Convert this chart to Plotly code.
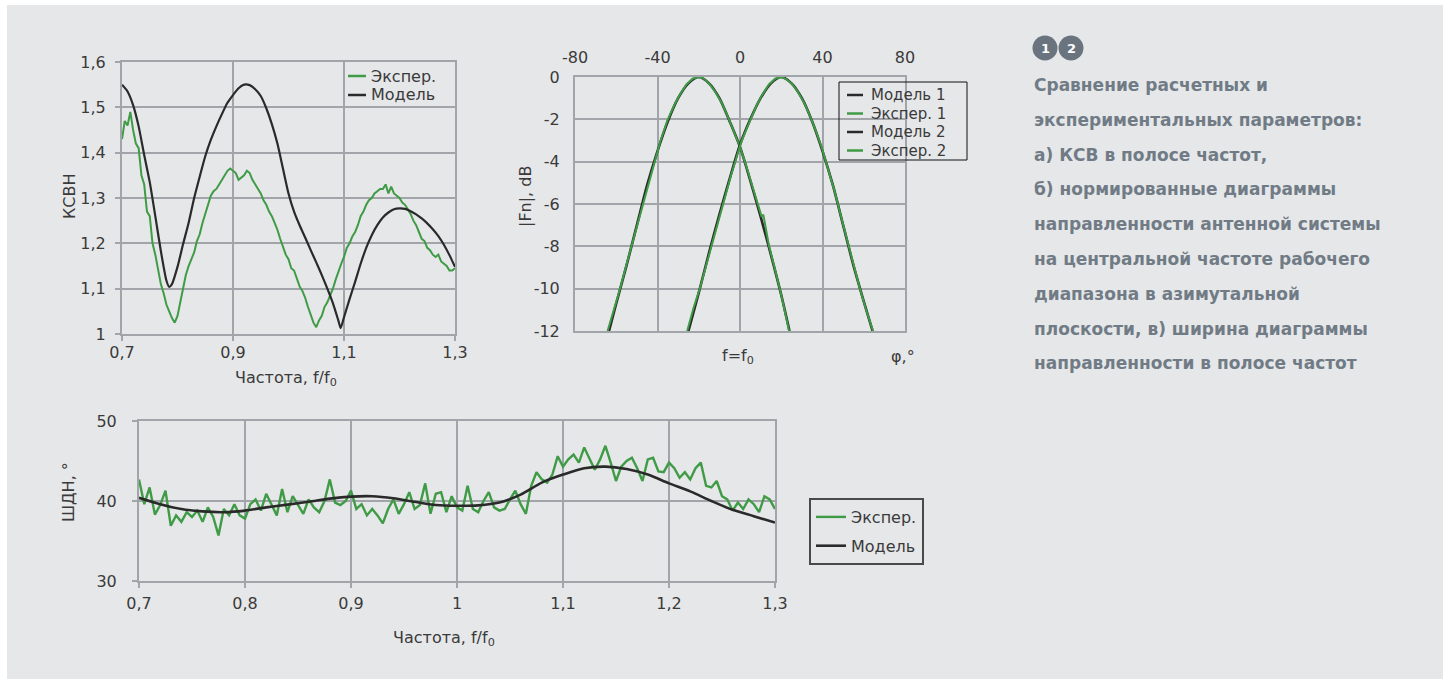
import plotly.graph_objects as go

W, H = 1448, 684

# ---------------- КСВН vs relative frequency ----------------
vswr_f_exp = [round(0.700 + 0.005 * k, 3) for k in range(121)]
vswr_exp = [
    1.43, 1.47, 1.46, 1.49, 1.45, 1.42, 1.41, 1.35, 1.33, 1.27,
    1.26, 1.20, 1.175, 1.145, 1.11, 1.09, 1.065, 1.05, 1.035, 1.025,
    1.04, 1.07, 1.10, 1.13, 1.15, 1.165, 1.18, 1.205, 1.22, 1.245,
    1.265, 1.29, 1.305, 1.315, 1.32, 1.33, 1.34, 1.35, 1.36, 1.365,
    1.36, 1.355, 1.34, 1.345, 1.35, 1.36, 1.355, 1.34, 1.33, 1.32,
    1.31, 1.295, 1.285, 1.27, 1.26, 1.245, 1.23, 1.21, 1.19, 1.175,
    1.165, 1.145, 1.14, 1.12, 1.105, 1.095, 1.08, 1.06, 1.04, 1.025,
    1.015, 1.03, 1.04, 1.06, 1.07, 1.085, 1.10, 1.12, 1.14, 1.155,
    1.17, 1.19, 1.20, 1.215, 1.225, 1.24, 1.26, 1.27, 1.285, 1.295,
    1.30, 1.31, 1.315, 1.32, 1.32, 1.33, 1.31, 1.325, 1.31, 1.305,
    1.30, 1.29, 1.285, 1.275, 1.265, 1.25, 1.24, 1.225, 1.21, 1.205,
    1.19, 1.185, 1.175, 1.17, 1.175, 1.16, 1.155, 1.15, 1.14, 1.14,
    1.145,
]
vswr_f_model = [
    0.70, 0.71, 0.72, 0.73, 0.74, 0.75, 0.76, 0.77, 0.78, 0.785,
    0.79, 0.80, 0.81, 0.82, 0.83, 0.84, 0.85, 0.86, 0.87, 0.88,
    0.89, 0.90, 0.91, 0.92, 0.93, 0.94, 0.95, 0.96, 0.97, 0.98,
    0.99, 1.00, 1.01, 1.02, 1.03, 1.04, 1.05, 1.06, 1.07, 1.08,
    1.09, 1.094, 1.10, 1.11, 1.12, 1.13, 1.14, 1.15, 1.16, 1.17,
    1.18, 1.19, 1.20, 1.21, 1.22, 1.23, 1.24, 1.25, 1.26, 1.27,
    1.28, 1.29, 1.30,
]
vswr_model = [
    1.550, 1.535, 1.505, 1.458, 1.395, 1.335, 1.260, 1.183, 1.118, 1.104,
    1.110, 1.148, 1.198, 1.245, 1.300, 1.347, 1.392, 1.428, 1.458, 1.485,
    1.510, 1.527, 1.542, 1.550, 1.549, 1.540, 1.525, 1.498, 1.463, 1.420,
    1.365, 1.310, 1.270, 1.240, 1.213, 1.185, 1.158, 1.130, 1.100, 1.068,
    1.029, 1.013, 1.037, 1.077, 1.115, 1.155, 1.190, 1.218, 1.240, 1.257,
    1.268, 1.275, 1.277, 1.276, 1.271, 1.264, 1.255, 1.244, 1.231, 1.216,
    1.197, 1.174, 1.148,
]
vswr_xticks = [0.7, 0.9, 1.1, 1.3]
vswr_yticks = [1.0, 1.1, 1.2, 1.3, 1.4, 1.5, 1.6]

# ---------------- normalised patterns |Fn|, dB ----------------
model1_phi = [-63.5, -60, -55, -50, -45, -40, -35, -30, -25, -20,
              -15, -10, -5, 0, 5, 10, 15, 20, 24]
model1_db = [-12.0, -10.7, -8.9, -7.0, -5.1, -3.5, -2.1, -1.0, -0.3, 0.0,
             -0.3, -1.0, -2.1, -3.3, -4.9, -6.6, -8.4, -10.3, -12.0]
exp1_phi = [-64.2, -61, -58, -55.3, -52.5, -49.7, -47, -44.3, -41.5, -38.5,
            -35.2, -32, -29, -26, -23, -20.5, -18, -15, -12, -9,
            -6, -3, 0, 3, 6, 9, 10.5, 11.3, 12, 14, 17, 20, 23.8]
exp1_db = [-12.0, -11.0, -9.95, -8.95, -7.95, -6.95, -6.0, -5.0, -4.0, -3.0,
           -2.05, -1.35, -0.8, -0.35, -0.08, 0.0, -0.05, -0.3, -0.7, -1.2,
           -1.85, -2.55, -3.3, -4.2, -5.15, -6.15, -6.6, -6.5, -6.9, -7.95,
           -9.1, -10.3, -12.0]
model2_phi = [-25, -20, -15, -10, -5, 0, 5, 10, 15, 20,
              25, 30, 35, 40, 45, 50, 55, 60, 64.3]
model2_db = [-12.0, -10.2, -8.3, -6.5, -4.8, -3.2, -2.0, -1.0, -0.3, 0.0,
             -0.3, -1.0, -2.1, -3.5, -5.1, -7.0, -8.9, -10.6, -12.0]
exp2_phi = [-25.6, -22.5, -19.5, -17, -14.5, -12, -9.5, -7, -4.5, -2,
            0.5, 3, 5.5, 8, 11, 14, 17, 19.5, 22, 25,
            28, 31, 34, 37, 40, 43, 46, 49, 52, 55,
            58, 61, 64.5]
exp2_db = [-12.0, -10.9, -10.0, -9.1, -8.2, -7.3, -6.4, -5.5, -4.7, -3.9,
           -3.1, -2.5, -1.9, -1.35, -0.8, -0.35, -0.08, 0.0, -0.08, -0.3,
           -0.7, -1.2, -1.85, -2.6, -3.45, -4.4, -5.45, -6.6, -7.75, -8.85,
           -9.95, -10.95, -12.0]
phi_ticks = [-80, -40, 0, 40, 80]
phi_ticktext = ["-80", "-40", "0", "40", "80"]
db_ticks = [0, -2, -4, -6, -8, -10, -12]
db_ticktext = ["0", "-2", "-4", "-6", "-8", "-10", "-12"]

# ---------------- beamwidth ШДН vs frequency ----------------
bw_f_exp = [round(0.700 + 0.005 * k, 3) for k in range(121)]
bw_exp = [
    42.7, 39.6, 41.7, 38.3, 39.5, 41.3, 36.9, 38.2, 37.4, 38.6,
    38.0, 38.8, 37.4, 39.2, 38.0, 35.7, 39.0, 38.2, 39.6, 38.2,
    37.8, 39.6, 40.2, 38.8, 40.9, 39.5, 38.2, 41.5, 38.6, 40.6,
    39.5, 38.4, 40.2, 39.2, 38.6, 40.0, 42.7, 39.8, 39.5, 40.0,
    41.3, 39.0, 39.6, 38.2, 39.0, 38.2, 37.2, 39.0, 40.2, 38.4,
    39.6, 41.1, 39.0, 39.5, 42.2, 38.4, 40.9, 41.1, 38.6, 40.6,
    39.2, 38.8, 41.9, 39.0, 38.6, 40.0, 41.1, 39.2, 38.8, 39.0,
    40.2, 41.3, 39.6, 38.4, 41.9, 43.6, 42.7, 42.3, 43.3, 45.6,
    44.3, 45.2, 45.8, 44.8, 46.7, 45.2, 43.9, 45.2, 46.9, 44.8,
    42.5, 44.3, 45.0, 45.4, 44.1, 42.5, 45.2, 45.4, 43.7, 43.6,
    44.8, 44.1, 42.9, 43.6, 42.7, 44.1, 44.8, 41.9, 41.7, 42.5,
    40.6, 40.2, 38.8, 39.8, 39.0, 40.2, 39.6, 38.6, 40.6, 40.2,
    39.0,
]
bw_f_model = [0.70, 0.72, 0.74, 0.76, 0.78, 0.80, 0.82, 0.84, 0.86, 0.88,
              0.90, 0.92, 0.94, 0.96, 0.98, 1.00, 1.02, 1.04, 1.06, 1.08,
              1.10, 1.12, 1.14, 1.16, 1.18, 1.20, 1.22, 1.24, 1.26, 1.28,
              1.30]
bw_model = [40.4, 39.6, 39.0, 38.7, 38.6, 38.8, 39.2, 39.55, 39.9, 40.3,
            40.55, 40.6, 40.35, 39.9, 39.5, 39.4, 39.45, 39.8, 40.8, 42.3,
            43.3, 44.1, 44.3, 44.0, 43.3, 42.2, 41.2, 40.0, 38.9, 38.1,
            37.3]
bw_xticks = [0.7, 0.8, 0.9, 1.0, 1.1, 1.2, 1.3]
bw_yticks = [30, 40, 50]

caption_lines = [
    "Сравнение расчетных и",
    "экспериментальных параметров:",
    "а) КСВ в полосе частот,",
    "б) нормированные диаграммы",
    "направленности антенной системы",
    "на центральной частоте рабочего",
    "диапазона в азимутальной",
    "плоскости, в) ширина диаграммы",
    "направленности в полосе частот",
]

# ---------------- styling ----------------
FONT = "DejaVu Sans"
TXT = "#3a3a3a"
GRID = "#a1a5aa"
PANEL = "#e6e7e9"
GREEN = "#3f9b45"
DARK = "#2a2a2a"
CAPTION = "#707b85"


def px_x(p):
    return p / W


def px_y(p):
    return 1 - p / H


fig = go.Figure()

# chart a: VSWR
fig.add_trace(go.Scatter(x=vswr_f_exp, y=vswr_exp, mode="lines", name="Экспер.",
                         line=dict(color=GREEN, width=2), xaxis="x", yaxis="y",
                         showlegend=False))
fig.add_trace(go.Scatter(x=vswr_f_model, y=vswr_model, mode="lines", name="Модель",
                         line=dict(color=DARK, width=2.2, shape="spline", smoothing=0.6),
                         xaxis="x", yaxis="y", showlegend=False))

# chart b: normalised patterns
fig.add_trace(go.Scatter(x=model1_phi, y=model1_db, mode="lines", name="Модель 1",
                         line=dict(color=DARK, width=2.6, shape="spline", smoothing=0.8),
                         xaxis="x2", yaxis="y2", showlegend=False))
fig.add_trace(go.Scatter(x=exp1_phi, y=exp1_db, mode="lines", name="Экспер. 1",
                         line=dict(color=GREEN, width=2),
                         xaxis="x2", yaxis="y2", showlegend=False))
fig.add_trace(go.Scatter(x=model2_phi, y=model2_db, mode="lines", name="Модель 2",
                         line=dict(color=DARK, width=2.6, shape="spline", smoothing=0.8),
                         xaxis="x2", yaxis="y2", showlegend=False))
fig.add_trace(go.Scatter(x=exp2_phi, y=exp2_db, mode="lines", name="Экспер. 2",
                         line=dict(color=GREEN, width=2),
                         xaxis="x2", yaxis="y2", showlegend=False))

# chart c: beamwidth
fig.add_trace(go.Scatter(x=bw_f_exp, y=bw_exp, mode="lines", name="Экспер.",
                         line=dict(color=GREEN, width=2.4), xaxis="x3", yaxis="y3",
                         legend="legend3", legendgroup="e"))
fig.add_trace(go.Scatter(x=bw_f_model, y=bw_model, mode="lines", name="Модель",
                         line=dict(color=DARK, width=2.6, shape="spline", smoothing=0.8),
                         xaxis="x3", yaxis="y3", legend="legend3", legendgroup="m"))

tickfont = dict(family=FONT, size=16, color=TXT)
axis_common = dict(showgrid=True, gridcolor=GRID, gridwidth=2, showline=True,
                   linecolor=GRID, linewidth=2, mirror=True, zeroline=False,
                   automargin=False, tickfont=tickfont, fixedrange=True)

fig.update_layout(
    template="none",
    width=W, height=H,
    margin=dict(l=0, r=0, t=0, b=0, pad=0, autoexpand=False),
    paper_bgcolor="white",
    plot_bgcolor="rgba(0,0,0,0)",
    separators=", ",
    font=dict(family=FONT, color=TXT),
    xaxis=dict(axis_common, domain=[px_x(122), px_x(455)], range=[0.7, 1.3],
               tickvals=vswr_xticks, ticks="outside", ticklen=5, tickwidth=2,
               tickcolor=GRID, ticklabelstandoff=-2, anchor="y"),
    yaxis=dict(axis_common, domain=[px_y(334), px_y(62)], range=[1.0, 1.6],
               tickvals=vswr_yticks, ticks="outside", ticklen=5, tickwidth=2,
               tickcolor=GRID, ticklabelstandoff=6, anchor="x"),
    xaxis2=dict(axis_common, domain=[px_x(575), px_x(905)], range=[-80, 80],
                tickvals=phi_ticks, ticktext=phi_ticktext, side="top",
                ticklabelstandoff=6, anchor="y2"),
    yaxis2=dict(axis_common, domain=[px_y(331), px_y(77)], range=[-12, 0],
                tickvals=db_ticks, ticktext=db_ticktext, ticklabelstandoff=10,
                anchor="x2"),
    xaxis3=dict(axis_common, domain=[px_x(139), px_x(775)], range=[0.7, 1.3],
                tickvals=bw_xticks, ticks="outside", ticklen=5, tickwidth=2,
                tickcolor=GRID, ticklabelstandoff=2, anchor="y3"),
    yaxis3=dict(axis_common, domain=[px_y(581), px_y(421)], range=[30, 50],
                tickvals=bw_yticks, ticks="outside", ticklen=5, tickwidth=2,
                tickcolor=GRID, ticklabelstandoff=12, anchor="x3"),
    legend3=dict(x=px_x(809), y=px_y(498), xanchor="left", yanchor="top",
                 bgcolor="rgba(0,0,0,0)", bordercolor="#4a4a4a", borderwidth=2,
                 traceorder="grouped", tracegroupgap=5,
                 font=dict(family=FONT, size=16, color=TXT)),
)

shapes = [
    dict(type="rect", xref="paper", yref="paper", x0=px_x(7), x1=px_x(1443),
         y0=px_y(679), y1=px_y(5), fillcolor=PANEL, line=dict(width=0), layer="below"),
]
for cx in (1045, 1071):
    shapes.append(dict(type="circle", xref="paper", yref="paper",
                       x0=px_x(cx - 12.5), x1=px_x(cx + 12.5),
                       y0=px_y(48 + 12.5), y1=px_y(48 - 12.5),
                       fillcolor="#69747f", line=dict(width=0)))

annotations = []


def label(text, x, y, size=16, angle=0, xanchor="center", color=TXT, bold=False):
    annotations.append(dict(
        text=f"<b>{text}</b>" if bold else text, x=px_x(x), y=px_y(y),
        xref="paper", yref="paper", xanchor=xanchor, yanchor="middle",
        showarrow=False, textangle=angle,
        font=dict(family=FONT, size=size, color=color)))


def key(x0, x1, y, color, text, tx, size):
    shapes.append(dict(type="line", xref="paper", yref="paper",
                       x0=px_x(x0), x1=px_x(x1), y0=px_y(y), y1=px_y(y),
                       line=dict(color=color, width=2.5)))
    label(text, tx, y, size=size, xanchor="left")


# key for chart a (no frame)
key(348, 366, 76, GREEN, "Экспер.", 369, 16)
key(348, 366, 95, DARK, "Модель", 369, 16)

# framed key for chart b
shapes.append(dict(type="rect", xref="paper", yref="paper",
                   x0=px_x(839), x1=px_x(967), y0=px_y(160), y1=px_y(82),
                   line=dict(color="#111111", width=1), fillcolor="rgba(0,0,0,0)"))
key(847, 863, 95, DARK, "Модель 1", 869, 15)
key(847, 863, 113.5, GREEN, "Экспер. 1", 869, 15)
key(847, 863, 132, DARK, "Модель 2", 869, 15)
key(847, 863, 150.5, GREEN, "Экспер. 2", 869, 15)

label("Частота, f/f<sub>0</sub>", 286, 378)
label("КСВН", 70, 196, angle=-90)
label("|Fn|, dB", 526, 197, angle=-90)
label("f=f<sub>0</sub>", 738, 356)
label("φ,°", 903, 356)
label("ШДН, °", 68, 492, angle=-90)
label("Частота, f/f<sub>0</sub>", 444, 638)
label("1", 1045, 48, size=13, color="white", bold=True)
label("2", 1071, 48, size=13, color="white", bold=True)
for i, line in enumerate(caption_lines):
    label(line, 1032, 85 + i * 34.8, size=17, xanchor="left", color=CAPTION, bold=True)

fig.update_layout(shapes=shapes, annotations=annotations)

fig.write_html("out.html")
